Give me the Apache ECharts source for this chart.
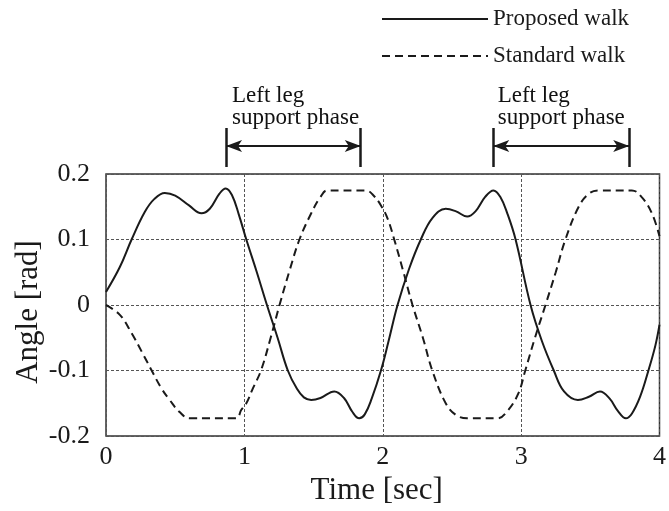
<!DOCTYPE html>
<html>
<head>
<meta charset="utf-8">
<script src="https://cdn.jsdelivr.net/npm/echarts@6/dist/echarts.min.js"></script>
<style>html,body{margin:0;padding:0;background:#fff}#c{width:669px;height:511px}</style>
</head>
<body>
<div id="c"></div>
<script>
// ---- data ----
var seriesNames = ['Proposed walk', 'Standard walk'];
var xTicks = [0, 1, 2, 3, 4];
var yTicks = [-0.2, -0.1, 0, 0.1, 0.2];
var proposedT = [0, 0.1, 0.185, 0.28, 0.35, 0.425, 0.5, 0.6, 0.69, 0.75, 0.82, 0.865, 0.91, 0.96, 1.014, 1.09, 1.163, 1.24, 1.314, 1.38, 1.43, 1.483, 1.55, 1.65, 1.72, 1.78, 1.83, 1.87, 1.92, 1.987, 2.04, 2.107, 2.19, 2.275, 2.36, 2.455, 2.53, 2.61, 2.67, 2.74, 2.80, 2.85, 2.90, 2.96, 3.068, 3.15, 3.236, 3.31, 3.41, 3.49, 3.57, 3.64, 3.70, 3.757, 3.80, 3.86, 3.92, 3.97, 4.0];
var proposedV = [0.020, 0.058, 0.100, 0.142, 0.162, 0.171, 0.167, 0.152, 0.140, 0.147, 0.170, 0.178, 0.168, 0.138, 0.100, 0.050, 0.000, -0.050, -0.100, -0.128, -0.141, -0.145, -0.142, -0.132, -0.142, -0.163, -0.173, -0.167, -0.143, -0.100, -0.057, 0.000, 0.055, 0.100, 0.133, 0.147, 0.143, 0.135, 0.143, 0.165, 0.175, 0.165, 0.140, 0.100, 0.000, -0.055, -0.100, -0.132, -0.145, -0.140, -0.132, -0.143, -0.162, -0.173, -0.166, -0.140, -0.100, -0.062, -0.030];
var standardT = [0, 0.1, 0.185, 0.26, 0.33, 0.40, 0.46, 0.53, 0.605, 0.94, 0.978, 1.014, 1.06, 1.12, 1.19, 1.254, 1.33, 1.398, 1.483, 1.55, 1.60, 1.878, 1.93, 1.987, 2.035, 2.083, 2.15, 2.215, 2.29, 2.358, 2.455, 2.53, 2.61, 2.83, 2.90, 2.98, 3.03, 3.10, 3.176, 3.25, 3.32, 3.416, 3.49, 3.56, 3.80, 3.87, 3.945, 4.0];
var standardV = [0.000, -0.015, -0.043, -0.072, -0.100, -0.127, -0.145, -0.163, -0.173, -0.173, -0.160, -0.150, -0.128, -0.100, -0.050, 0.000, 0.055, 0.100, 0.140, 0.165, 0.175, 0.175, 0.168, 0.152, 0.132, 0.100, 0.050, 0.000, -0.050, -0.100, -0.150, -0.168, -0.173, -0.173, -0.162, -0.135, -0.100, -0.050, 0.000, 0.050, 0.100, 0.150, 0.170, 0.175, 0.175, 0.165, 0.140, 0.105];
// support-phase annotations (time in sec)
var phaseStart = [0.865, 2.791];
var phaseEnd = [1.836, 3.771];
var phaseLabelX = [0.908, 2.823];
var phaseLabel = 'Left leg\nsupport phase';

// ---- build ----
function pairs(t, v) { return t.map(function (x, i) { return [x, v[i]]; }); }
var FONT = '"Liberation Serif", "Times New Roman", serif';
var INK = '#1a1a1a';

var markData = [];
for (var i = 0; i < phaseStart.length; i++) {
  markData.push([{ coord: [phaseStart[i], 0.033] }, { coord: [phaseStart[i], 0.467] }]);
  markData.push([{ coord: [phaseEnd[i], 0.033] }, { coord: [phaseEnd[i], 0.467] }]);
}
var arrowData = [];
for (var j = 0; j < phaseStart.length; j++) {
  arrowData.push([{ coord: [phaseStart[j], 0.267] }, { coord: [phaseEnd[j], 0.267] }]);
}
var labelPoints = phaseLabelX.map(function (x) {
  return {
    coord: [x, 0.7], symbol: 'circle', symbolSize: 0,
    label: {
      show: true, position: [0, 0], align: 'left', verticalAlign: 'middle',
      formatter: phaseLabel, fontFamily: FONT, fontSize: 23, lineHeight: 22, color: '#111', opacity: 1
    }
  };
});

var chart = echarts.init(document.getElementById('c'), null, { renderer: 'canvas' });
chart.setOption({
  animation: false,
  backgroundColor: '#fff',
  textStyle: { fontFamily: FONT },
  legend: {
    data: seriesNames,
    orient: 'vertical',
    left: 376,
    top: 2,
    itemWidth: 106,
    itemHeight: 24,
    itemGap: 13,
    selectedMode: false,
    itemStyle: { opacity: 0 },
    textStyle: { fontFamily: FONT, fontSize: 23, color: INK, lineHeight: 24 }
  },
  grid: [
    { left: 106, right: 8, top: 174, bottom: 75, show: true, borderColor: '#333', borderWidth: 1.5, backgroundColor: 'transparent' },
    { left: 106, right: 8, top: 80, height: 90, show: false }
  ],
  xAxis: [
    {
      gridIndex: 0, type: 'value', min: xTicks[0], max: xTicks[xTicks.length - 1], interval: 1,
      name: 'Time [sec]', nameLocation: 'middle', nameGap: 39,
      nameTextStyle: { fontFamily: FONT, fontSize: 31, color: INK, padding: [0, 12, 0, 0] },
      axisLine: { show: false }, axisTick: { show: false },
      axisLabel: { fontFamily: FONT, fontSize: 26, color: INK, margin: 8, formatter: function (v) { return String(v); } },
      splitLine: { show: true, lineStyle: { color: '#555', width: 1, type: [3, 2] } }
    },
    { gridIndex: 1, type: 'value', min: 0, max: 4, show: false }
  ],
  yAxis: [
    {
      gridIndex: 0, type: 'value', min: yTicks[0], max: yTicks[yTicks.length - 1], interval: 0.1,
      name: 'Angle [rad]', nameLocation: 'middle', nameGap: 62, nameRotate: 90, nameMoveOverlap: false,
      nameTextStyle: { fontFamily: FONT, fontSize: 31, color: INK, padding: [0, 14, 0, 0] },
      axisLine: { show: false }, axisTick: { show: false },
      axisLabel: {
        fontFamily: FONT, fontSize: 26, color: INK, margin: 16,
        formatter: function (v) {
          var best = yTicks[0];
          yTicks.forEach(function (t) { if (Math.abs(t - v) < Math.abs(best - v)) best = t; });
          return String(best);
        }
      },
      splitLine: { show: true, lineStyle: { color: '#555', width: 1, type: [3, 2] } }
    },
    { gridIndex: 1, type: 'value', min: 0, max: 1, show: false }
  ],
  series: [
    {
      name: seriesNames[0], type: 'line', xAxisIndex: 0, yAxisIndex: 0,
      data: pairs(proposedT, proposedV), symbol: 'none', showSymbol: false, smooth: 0.4,
      lineStyle: { color: INK, width: 2, type: 'solid' }, itemStyle: { color: INK }
    },
    {
      name: seriesNames[1], type: 'line', xAxisIndex: 0, yAxisIndex: 0,
      data: pairs(standardT, standardV), symbol: 'none', showSymbol: false, smooth: 0.4,
      lineStyle: { color: INK, width: 2, type: [8, 5] }, itemStyle: { color: INK }
    },
    {
      name: 'annot', type: 'line', xAxisIndex: 1, yAxisIndex: 1, data: [],
      silent: true,
      markPoint: {
        silent: true, animation: false,
        itemStyle: { color: '#111' },
        data: labelPoints
      },
      markLine: {
        silent: true, symbol: ['none', 'none'], animation: false,
        label: { show: false },
        lineStyle: { color: INK, width: 2.5, type: 'solid' },
        data: markData
      }
    },
    {
      name: 'arrows', type: 'line', xAxisIndex: 1, yAxisIndex: 1, data: [],
      markLine: {
        silent: true, symbol: ['arrow', 'arrow'], symbolSize: [9, 16], animation: false,
        label: { show: false },
        lineStyle: { color: INK, width: 1.8, type: 'solid' },
        data: arrowData
      }
    }
  ]
});
</script>
</body>
</html>
